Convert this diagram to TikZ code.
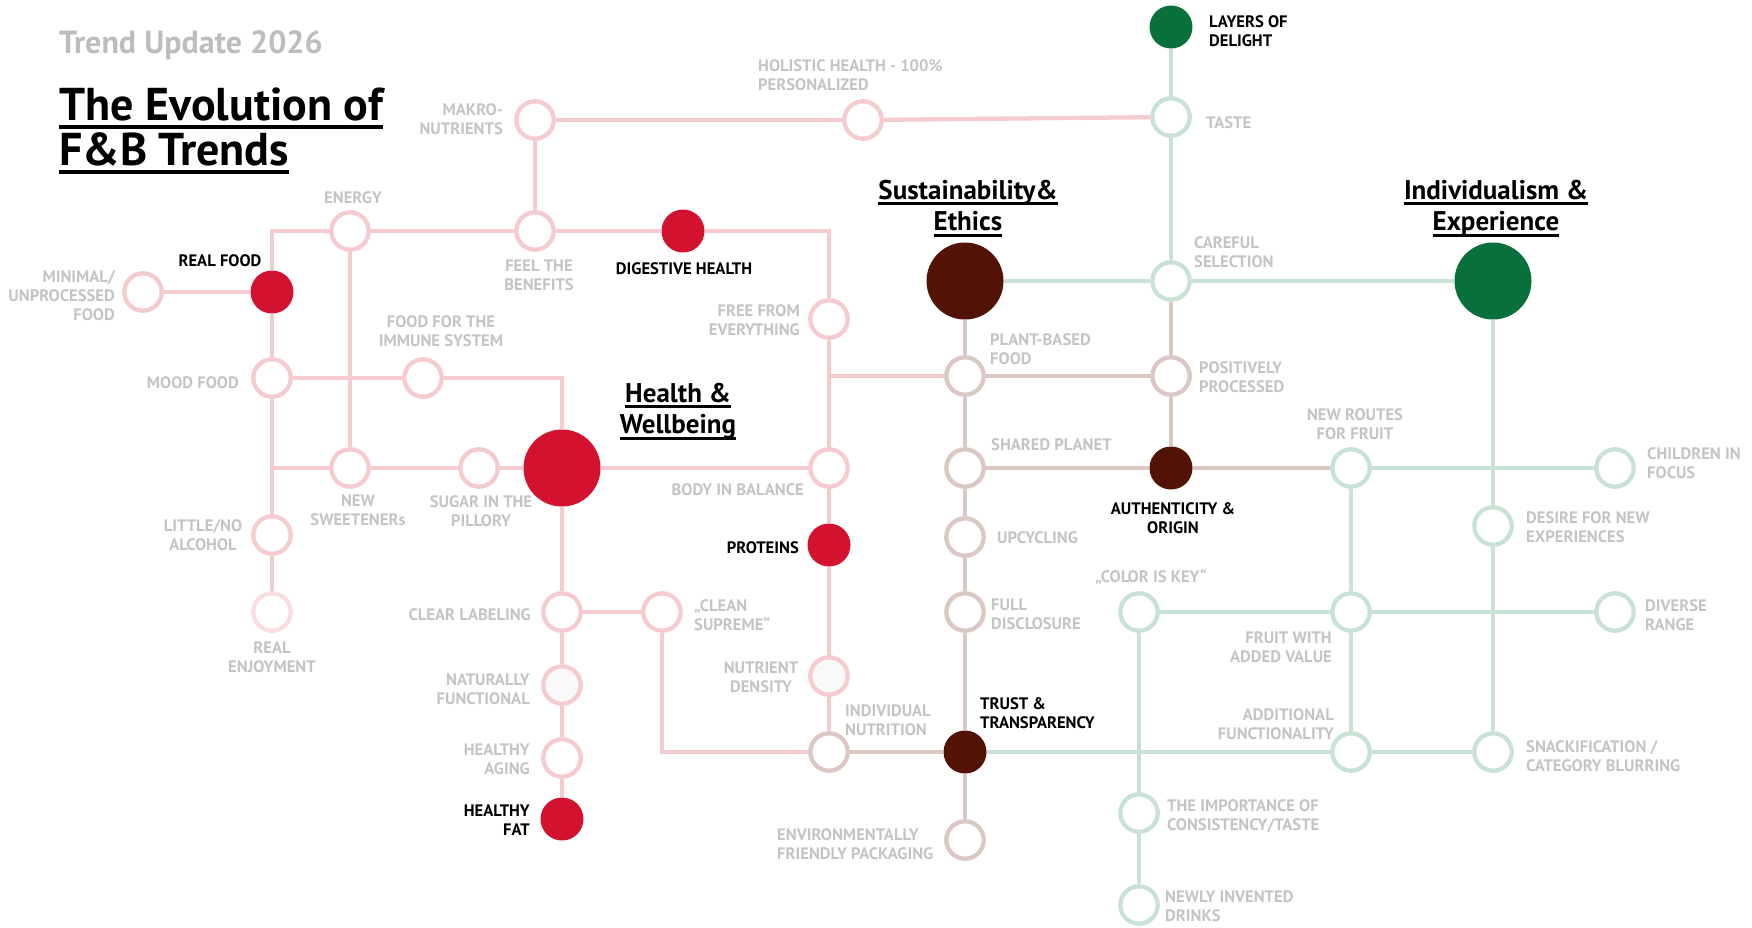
\documentclass[tikz,border=0pt]{standalone}
\usepackage{fontspec}
\setmainfont{PT Sans}

\definecolor{pkline}{HTML}{F5CBD0}
\definecolor{pklight}{HTML}{FADDE0}
\definecolor{brline}{HTML}{DBC8C5}
\definecolor{grline}{HTML}{C8E3D6}
\definecolor{hred}{HTML}{D31230}
\definecolor{sbrown}{HTML}{521205}
\definecolor{igreen}{HTML}{08703A}
\definecolor{txtgrey}{HTML}{C4C4C4}
\definecolor{ttlgrey}{HTML}{BDBDBD}
\definecolor{offwhite}{HTML}{F9F9F9}

\newcommand\undl[3]{\setbox0=\hbox{#3}\rlap{\rule[-#1]{\wd0}{#2}}\box0}

\begin{document}
\begin{tikzpicture}[x=1pt,y=-1pt,
    ring/.style={circle, draw=#1, line width=4.3pt, fill=white, minimum size=37.4pt, inner sep=0pt},
    dot/.style={circle, fill=#1, minimum size=43pt, inner sep=0pt},
    hub/.style={circle, fill=#1, minimum size=77pt, inner sep=0pt},
    lbl/.style={font=\fontsize{16.6}{19}\selectfont\bfseries, text=txtgrey, inner sep=0pt},
    cat/.style={font=\fontsize{27}{31.5}\selectfont\bfseries, align=center, anchor=north, inner sep=0pt}]

  \useasboundingbox (0,0) rectangle (1752,927);

  \node[anchor=north west, inner sep=0pt, text=ttlgrey, font=\fontsize{32}{36}\selectfont\bfseries] (upd) at (59,30) {Trend Update 2026};
  \node[anchor=north west, inner sep=0pt, align=left, font=\fontsize{46}{45}\selectfont\bfseries] (ttl) at (59,88)
    {\undl{8.5pt}{4.5pt}{The Evolution of}\\\undl{8.5pt}{4.5pt}{F\&B Trends}};

  \node[cat] (hw) at (678,383) {\undl{6pt}{3pt}{Health \&}\\\undl{6pt}{3pt}{Wellbeing}};
  \node[cat] (se) at (968,180) {\undl{6pt}{3pt}{Sustainability\&}\\\undl{6pt}{3pt}{Ethics}};
  \node[cat] (ie) at (1496,180) {\undl{6pt}{3pt}{Individualism \&}\\\undl{6pt}{3pt}{Experience}};

  \begin{scope}[every node/.style={ring=pkline}]
    \node (mak) at (535,120) {};
    \node (hol) at (863,120) {};
    \node (ene) at (350,231) {};
    \node (fee) at (535,231) {};
    \node (min) at (143,292) {};
    \node (moo) at (272,378) {};
    \node (imm) at (423,378) {};
    \node (fre) at (829,319) {};
    \node (swe) at (350,468) {};
    \node (sug) at (479,468) {};
    \node (bod) at (829,468) {};
    \node (alc) at (272,535) {};
    \node[draw=pklight] (enj) at (272,612) {};
    \node (cle) at (562,612) {};
    \node (sup) at (662,612) {};
    \node[fill=offwhite] (nat) at (562,685) {};
    \node[fill=offwhite] (nut) at (829,676) {};
    \node (age) at (562,758) {};
  \end{scope}

  \begin{scope}[every node/.style={ring=brline}]
    \node (ind) at (829,752) {};
    \node (pla) at (965,376) {};
    \node (pos) at (1171,376) {};
    \node (sha) at (965,468) {};
    \node (upc) at (965,537) {};
    \node (ful) at (965,612) {};
    \node (env) at (965,840) {};
  \end{scope}

  \begin{scope}[every node/.style={ring=grline}]
    \node (tas) at (1171,117) {};
    \node (car) at (1171,281) {};
    \node (rou) at (1351,468) {};
    \node (chi) at (1615,468) {};
    \node (des) at (1493,526) {};
    \node (col) at (1139,612) {};
    \node (fru) at (1351,612) {};
    \node (div) at (1615,612) {};
    \node (add) at (1351,752) {};
    \node (sna) at (1493,752) {};
    \node (imp) at (1139,813) {};
    \node (dri) at (1139,905) {};
  \end{scope}

  \node[dot=hred] (dig) at (683,231) {};
  \node[dot=hred] (rea) at (272,292) {};
  \node[dot=hred] (pro) at (829,545) {};
  \node[dot=hred] (fat) at (562,819) {};
  \node[dot=sbrown] (aut) at (1171,468) {};
  \node[dot=sbrown] (tru) at (965,752) {};
  \node[dot=igreen] (lay) at (1171,27) {};
  \node[hub=hred] (hea) at (562,468) {};
  \node[hub=sbrown] (sus) at (965,281) {};
  \node[hub=igreen] (idv) at (1493,281) {};

  \begin{scope}[every edge/.style={draw=pkline, line width=4.3pt}]
    \path (mak) edge (hol) edge (fee);
    \path (hol) edge (tas);
    \path (ene) edge (fee) edge (swe);
    \path (fee) edge (dig);
    \path (min) edge (rea);
    \path (rea) edge (moo);
    \path (moo) edge (alc) edge (imm);
    \path (alc) edge (enj);
    \path (swe) edge (sug);
    \path (sug) edge (hea);
    \path (hea) edge (bod) edge (cle);
    \path (fre) edge (bod);
    \path (bod) edge (pro);
    \path (pro) edge (nut);
    \path (nut) edge (ind);
    \path (cle) edge (nat) edge (sup);
    \path (nat) edge (age);
    \path (age) edge (fat);
    \draw[pkline, line width=4.3pt] (rea) |- (ene);
    \draw[pkline, line width=4.3pt] (dig) -| (fre);
    \draw[pkline, line width=4.3pt] (moo) |- (swe);
    \draw[pkline, line width=4.3pt] (imm) -| (hea);
    \draw[pkline, line width=4.3pt] (fre) |- (pla);
    \draw[pkline, line width=4.3pt] (sup) |- (ind);
  \end{scope}

  \begin{scope}[every edge/.style={draw=brline, line width=4.3pt}]
    \path (ind) edge (tru);
    \path (sus) edge (pla);
    \path (pla) edge (sha) edge (pos);
    \path (sha) edge (upc) edge (aut);
    \path (upc) edge (ful);
    \path (ful) edge (tru);
    \path (tru) edge (env);
    \path (car) edge (pos);
    \path (pos) edge (aut);
    \path (aut) edge (rou);
  \end{scope}

  \begin{scope}[every edge/.style={draw=grline, line width=4.3pt}]
    \path (lay) edge (tas);
    \path (tas) edge (car);
    \path (sus) edge (car);
    \path (car) edge (idv);
    \path (rou) edge (chi) edge (fru);
    \path (idv) edge (des);
    \path (des) edge (sna);
    \path (fru) edge (add) edge (div);
    \path (col) edge (fru) edge (imp);
    \path (imp) edge (dri);
    \path (tru) edge (add);
    \path (add) edge (sna);
  \end{scope}

  \begin{scope}[every node/.style={lbl, anchor=north west, align=left}]
    \node (lhol) at (758,59) {HOLISTIC HEALTH - 100\%\\PERSONALIZED};
    \node[text=black] (llay) at (1209,15) {LAYERS OF\\DELIGHT};
    \node (ltas) at (1206,116) {TASTE};
    \node (lcar) at (1194,236) {CAREFUL\\SELECTION};
    \node (lpla) at (990,333) {PLANT-BASED\\FOOD};
    \node (lpos) at (1199,361) {POSITIVELY\\PROCESSED};
    \node (lsha) at (991,438) {SHARED PLANET};
    \node (lchi) at (1647,447) {CHILDREN IN\\FOCUS};
    \node (ldes) at (1526,511) {DESIRE FOR NEW\\EXPERIENCES};
    \node (lupc) at (997,531) {UPCYCLING};
    \node (lful) at (991,599) {FULL\\DISCLOSURE};
    \node (ldiv) at (1645,599) {DIVERSE\\RANGE};
    \node (lsup) at (694,599) {„CLEAN\\SUPREME“};
    \node[text=black] (ltru) at (980,697) {TRUST \&\\TRANSPARENCY};
    \node (lind) at (845,704) {INDIVIDUAL\\NUTRITION};
    \node (lsna) at (1526,740) {SNACKIFICATION /\\CATEGORY BLURRING};
    \node (limp) at (1167,799) {THE IMPORTANCE OF\\CONSISTENCY/TASTE};
    \node (ldri) at (1165,890) {NEWLY INVENTED\\DRINKS};
    \node (lenv) at (777,828) {ENVIRONMENTALLY\\FRIENDLY PACKAGING};
  \end{scope}

  \begin{scope}[every node/.style={lbl, anchor=north east, align=right}]
    \node (lmak) at (503,103) {MAKRO-\\NUTRIENTS};
    \node (lmin) at (115,270) {MINIMAL/\\UNPROCESSED\\FOOD};
    \node (lfre) at (800,304) {FREE FROM\\EVERYTHING};
    \node (lmoo) at (239,376) {MOOD FOOD};
    \node (lbod) at (804,483) {BODY IN BALANCE};
    \node[text=black] (lpro) at (799,541) {PROTEINS};
    \node (lcle) at (531,608) {CLEAR LABELING};
    \node (lnat) at (530,674) {NATURALLY\\FUNCTIONAL};
    \node (lage) at (530,744) {HEALTHY\\AGING};
    \node[text=black] (lfat) at (530,805) {HEALTHY\\FAT};
    \node (lfru) at (1332,632) {FRUIT WITH\\ADDED VALUE};
    \node (ladd) at (1334,708) {ADDITIONAL\\FUNCTIONALITY};
  \end{scope}

  \begin{scope}[every node/.style={lbl, anchor=north, align=center}]
    \node (lene) at (353,191) {ENERGY};
    \node (lfee) at (539,260) {FEEL THE\\BENEFITS};
    \node[text=black] (ldig) at (684,262) {DIGESTIVE HEALTH};
    \node[text=black] (lrea) at (220,254) {REAL FOOD};
    \node (limm) at (441,315) {FOOD FOR THE\\IMMUNE SYSTEM};
    \node (lswe) at (358,495) {NEW\\SWEETENERs};
    \node (lsug) at (481,495) {SUGAR IN THE\\PILLORY};
    \node (lenj) at (272,642) {REAL\\ENJOYMENT};
    \node[text=black] (laut) at (1173,502) {AUTHENTICITY \&\\ORIGIN};
    \node (lrou) at (1355,408) {NEW ROUTES\\FOR FRUIT};
    \node (lcol) at (1151,569) {„COLOR IS KEY“};
    \node (lnut) at (761,661) {NUTRIENT\\DENSITY};
    \node (lalc) at (203,519) {LITTLE/NO\\ALCOHOL};
  \end{scope}

\end{tikzpicture}
\end{document}
